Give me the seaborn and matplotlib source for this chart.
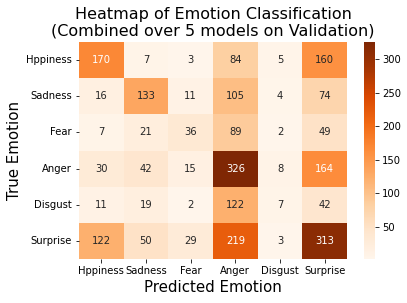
import numpy as np
import pandas as pd
import matplotlib
matplotlib.use("Agg")
import matplotlib.pyplot as plt
import seaborn as sns

labels = ["Hppiness", "Sadness", "Fear", "Anger", "Disgust", "Surprise"]
row_happiness = [170, 7, 3, 84, 5, 160]
row_sadness = [16, 133, 11, 105, 4, 74]
row_fear = [7, 21, 36, 89, 2, 49]
row_anger = [30, 42, 15, 326, 8, 164]
row_disgust = [11, 19, 2, 122, 7, 42]
row_surprise = [122, 50, 29, 219, 3, 313]

df = pd.DataFrame([row_happiness, row_sadness, row_fear, row_anger, row_disgust, row_surprise],
                  index=labels, columns=labels)

dpi = 72
fig = plt.figure(figsize=(407 / dpi, 303 / dpi), dpi=dpi)
W, H = 407, 303
ax = fig.add_axes([79 / W, 1 - 259 / H, (347 - 79) / W, (259 - 42) / H])
cax = fig.add_axes([364 / W, 1 - 259 / H, (375 - 364) / W, (259 - 42) / H])

sns.heatmap(df, annot=True, fmt="d", cmap="Oranges", ax=ax, cbar_ax=cax,
            annot_kws={"fontsize": 10})
cax.tick_params(labelsize=10)
cax.outline.set_visible(False) if hasattr(cax, "outline") else None
ax.tick_params(labelsize=10)
ax.set_yticklabels(labels, rotation=0)
ax.set_xticklabels(labels, rotation=0)
ax.set_title("Heatmap of Emotion Classification\n(Combined over 5 models on Validation)", fontsize=16)
ax.set_xlabel("Predicted Emotion", fontsize=15)
ax.set_ylabel("True Emotion", fontsize=15)

fig.savefig("out.png", dpi=dpi)
